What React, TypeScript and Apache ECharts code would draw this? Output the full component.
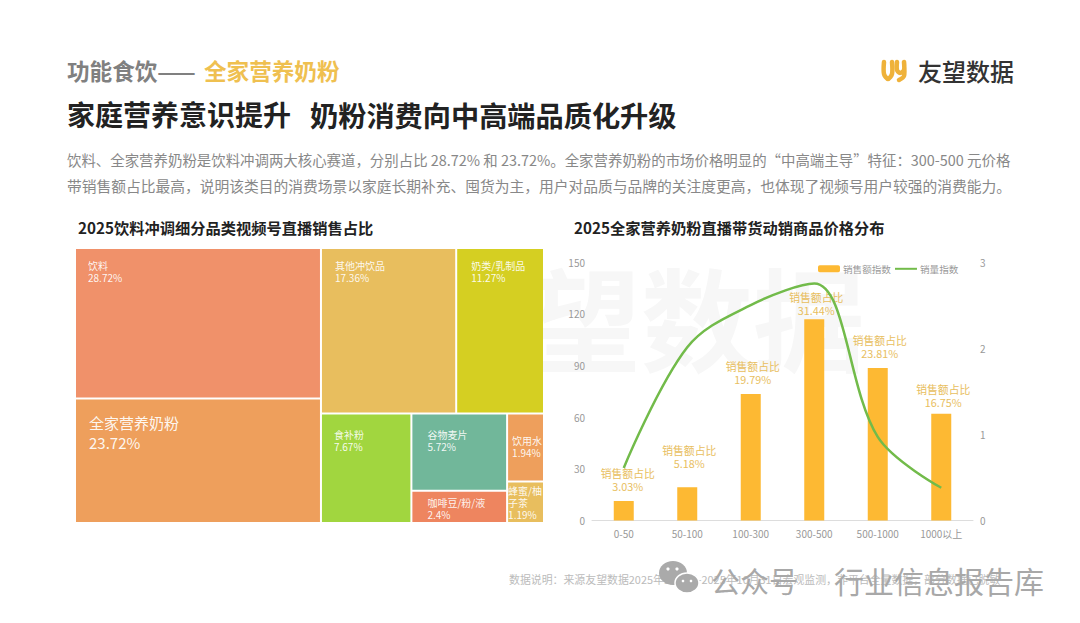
import React, { useEffect, useRef } from 'react';
import * as echarts from 'echarts';

const FONT = '"Noto Sans CJK SC", "Noto Sans", sans-serif';

const cellNames = ['饮料', '全家营养奶粉', '其他冲饮品', '奶类/乳制品', '食补粉', '谷物麦片', '咖啡豆/粉/液', '饮用水', '蜂蜜/柚子茶'];
const cellShares = [28.72, 23.72, 17.36, 11.27, 7.67, 5.72, 2.4, 1.94, 1.19];
const cellColors = ['#F0916A', '#EE9F5C', '#E8BE5E', '#D5CF22', '#A1D63F', '#71B79A', '#EE855F', '#EE9F5C', '#E8BE5E'];
const cellPads = [[10, 0, 0, 12], [13, 0, 0, 13], [10, 0, 0, 13], [10, 0, 0, 14], [14, 0, 0, 12], [14, 0, 0, 15], [5, 0, 0, 15], [20, 0, 0, 4], [2, 0, 0, 0]];

const priceBands = ['0-50', '50-100', '100-300', '300-500', '500-1000', '1000以上'];
const salesIndex = [11.3, 19.3, 73.4, 116.8, 88.5, 62];
const salesShare = ['3.03%', '5.18%', '19.79%', '31.44%', '23.81%', '16.75%'];
const volumeIndex = [0.61, 2.01, 2.5, 2.75, 0.97, 0.38];
const labelShift = [[4, 0], [2, -9], [2, 0], [2, 6], [2, 1], [2, 4]];

const para1 = '饮料、全家营养奶粉是饮料冲调两大核心赛道，分别占比 28.72% 和 23.72%。全家营养奶粉的市场价格明显的“中高端主导”特征：300-500 元价格';
const para2 = '带销售额占比最高，说明该类目的消费场景以家庭长期补充、囤货为主，用户对品质与品牌的关注度更高，也体现了视频号用户较强的消费能力。';
const footnote = '数据说明：来源友望数据2025年1月1日-2025年10月31日宏观监测，非平台全量数据，部分数据已脱敏';

const txt = (x: number, y: number, text: string, fontSize: number, fill: string, fontWeight: any = 'normal', z = 10) => ({
  type: 'text',
  x,
  y,
  z,
  style: { text, fontSize, fill, fontWeight, fontFamily: FONT, textVerticalAlign: 'middle' },
});

const App = () => {
  const chartRef = useRef<HTMLDivElement>(null);

  useEffect(() => {
    if (!chartRef.current) return;
    const chart = echarts.init(chartRef.current, null, { renderer: 'svg' });

    const option: any = {
      animation: false,
      backgroundColor: '#fff',
      textStyle: { fontFamily: FONT },
      grid: { left: 592, right: 107, top: 262, bottom: 102.5 },
      legend: {
        left: 813,
        top: 259,
        itemWidth: 22,
        itemHeight: 7,
        itemGap: 3,
        textStyle: { fontSize: 9.6, color: '#999', padding: [0, 0, 0, -2] },
        data: ['销售额指数', { name: '销量指数', itemStyle: { opacity: 0 } }],
      },
      xAxis: {
        type: 'category',
        data: priceBands,
        axisTick: { show: false },
        axisLine: { lineStyle: { color: '#ddd' } },
        axisLabel: { fontSize: 10, color: '#999', margin: 8 },
      },
      yAxis: [
        {
          type: 'value', min: 0, max: 150, interval: 30,
          splitLine: { show: false },
          axisLabel: { fontSize: 10, color: '#999', margin: 7 },
        },
        {
          type: 'value', min: 0, max: 3, interval: 1,
          splitLine: { show: false },
          axisLabel: { fontSize: 10, color: '#999', margin: 7 },
        },
      ],
      series: [
        {
          type: 'treemap',
          left: 76,
          top: 249,
          width: 467,
          height: 273,
          roam: false,
          nodeClick: false,
          squareRatio: 1.618,
          breadcrumb: { show: false },
          levels: [{ itemStyle: { borderWidth: 0, gapWidth: 2 } }],
          data: cellNames.map((name, i) => ({
            name,
            value: cellShares[i],
            itemStyle: { color: cellColors[i] },
            label: i === 1
              ? { fontSize: 15, padding: cellPads[i], lineHeight: 20 }
              : { padding: cellPads[i] },
          })),
          label: {
            show: true,
            position: 'insideTopLeft',
            fontSize: 10,
            lineHeight: 12,
            color: 'rgba(255,255,255,0.92)',
            overflow: 'breakAll',
            formatter: (p: any) => `${p.name}\n${p.value}%`,
          },
        },
        {
          name: '销售额指数',
          type: 'bar',
          barWidth: 20,
          itemStyle: { color: '#FDB933' },
          data: salesIndex.map((value, i) => ({ value, label: { offset: labelShift[i] } })),
          label: {
            show: true,
            position: 'top',
            distance: 9,
            fontSize: 10.8,
            lineHeight: 13,
            color: '#E8BE5E',
            formatter: (p: any) => `销售额占比\n${salesShare[p.dataIndex]}`,
          },
        },
        {
          name: '销量指数',
          type: 'line',
          yAxisIndex: 1,
          smooth: 0.35,
          symbol: 'none',
          lineStyle: { color: '#72BB4A', width: 2.5 },
          itemStyle: { color: '#72BB4A' },
          data: volumeIndex,
        },
      ],
      graphic: [
        txt(417, 315, '友望数据', 112, '#f7f7f7', 'bold', -1),
        txt(67, 70, '功能食饮——', 22.6, '#808080', 'bold'),
        txt(204, 70, '全家营养奶粉', 22.6, '#EFC050', 'bold'),
        txt(67, 114, '家庭营养意识提升', 28, '#222', 'bold'),
        txt(310, 114, '奶粉消费向中高端品质化升级', 28.2, '#222', 'bold'),
        txt(67, 159, para1, 14.43, '#888'),
        txt(67, 185, para2, 14.75, '#888'),
        txt(78, 226.5, '2025饮料冲调细分品类视频号直播销售占比', 15.25, '#222', 'bold'),
        txt(574, 226.5, '2025全家营养奶粉直播带货动销商品价格分布', 15.25, '#222', 'bold'),
        txt(509, 579, footnote, 10.9, '#bbb'),
        {
          type: 'polyline', z: 10,
          shape: { points: [[884, 62], [884, 74], [888, 79], [892, 74], [892, 62]], smooth: 0.3 },
          style: { stroke: '#EFB23A', lineWidth: 4.5, fill: 'none', lineCap: 'round' },
        },
        {
          type: 'polyline', z: 10,
          shape: { points: [[897, 62], [897, 70], [900, 73], [904, 70], [904, 62], [904, 76], [899, 80]], smooth: 0.3 },
          style: { stroke: '#EFB23A', lineWidth: 4.5, fill: 'none', lineCap: 'round' },
        },
        txt(918, 70, '友望数据', 24, '#333', 500),
        { type: 'ellipse', z: 20, shape: { cx: 673, cy: 573, rx: 14, ry: 12 }, style: { fill: '#aaa' } },
        { type: 'circle', z: 20, shape: { cx: 668, cy: 569, r: 1.6 }, style: { fill: '#fff' } },
        { type: 'circle', z: 20, shape: { cx: 677, cy: 569, r: 1.6 }, style: { fill: '#fff' } },
        { type: 'ellipse', z: 21, shape: { cx: 687, cy: 583, rx: 12, ry: 10 }, style: { fill: '#aaa', stroke: '#fff', lineWidth: 1.5 } },
        { type: 'circle', z: 22, shape: { cx: 683, cy: 581, r: 1.3 }, style: { fill: '#fff' } },
        { type: 'circle', z: 22, shape: { cx: 691, cy: 581, r: 1.3 }, style: { fill: '#fff' } },
        txt(711, 580, '公众号', 29, '#a8a8a8', 'normal', 20),
        txt(834, 580, '行业信息报告库', 30, '#a8a8a8', 'normal', 20),
      ],
    };
    chart.setOption(option);

    return () => {
      chart.dispose();
    };
  }, []);

  return <div ref={chartRef} style={{ position: 'fixed', left: 0, top: 0, width: 1080, height: 623 }} />;
};

export default App;
